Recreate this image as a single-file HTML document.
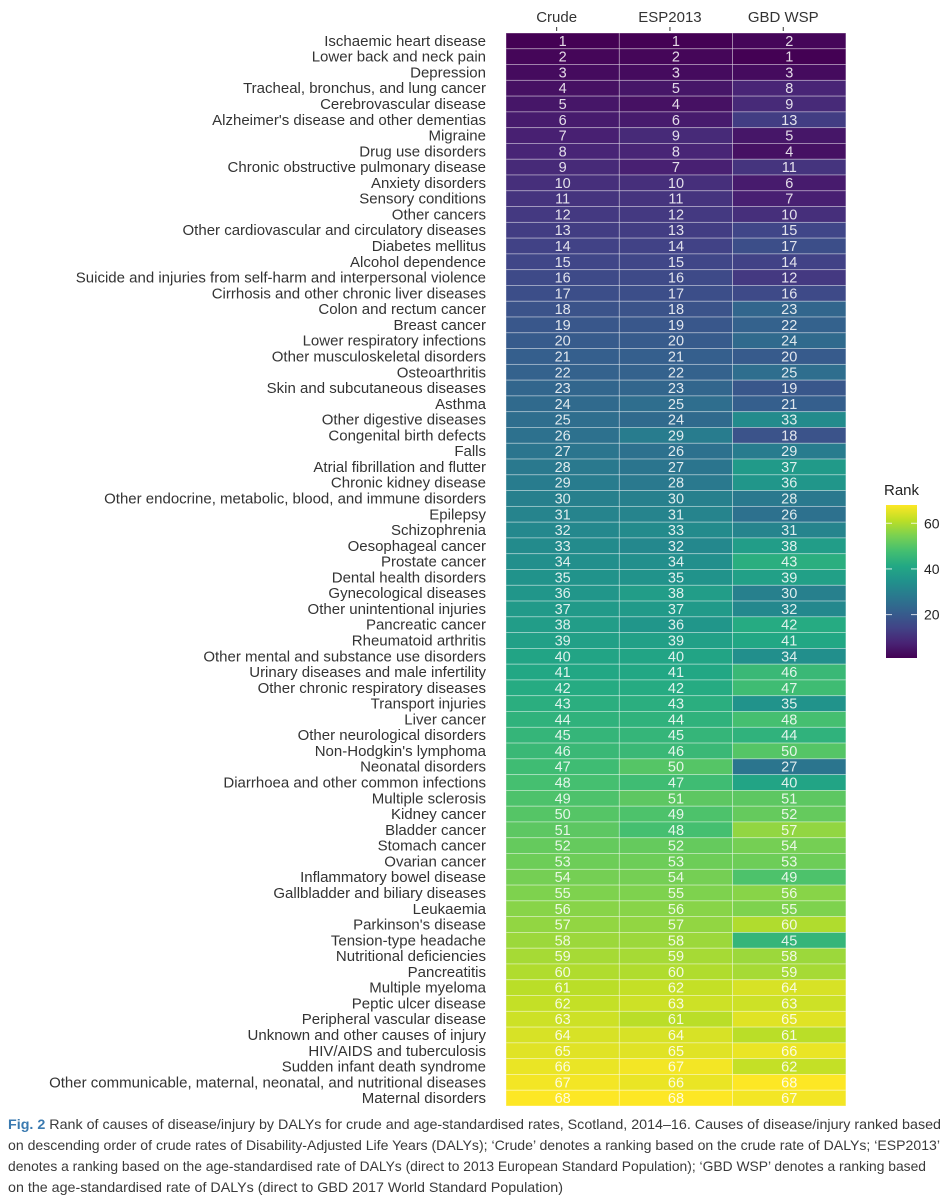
<!DOCTYPE html>
<html><head><meta charset="utf-8"><style>
html,body{margin:0;padding:0;background:#fff;}
svg{display:block;font-family:"Liberation Sans",Arial,sans-serif;}
</style></head><body>
<svg id="chart" width="949" height="1200" viewBox="0 0 949 1200" xmlns="http://www.w3.org/2000/svg">
<g id="labels"></g>
<g id="cells"></g>
<g id="xaxis"></g>
<g id="legend">
<defs><linearGradient id="vg" x1="0" y1="1" x2="0" y2="0"></linearGradient></defs>
</g>
<g font-size="14" fill="#3a3a3a">
<text x="8" y="1129" textLength="933" lengthAdjust="spacingAndGlyphs"><tspan font-weight="bold" fill="#3a7ab0">Fig. 2</tspan> Rank of causes of disease/injury by DALYs for crude and age-standardised rates, Scotland, 2014–16. Causes of disease/injury ranked based</text>
<text x="8" y="1150" textLength="932" lengthAdjust="spacingAndGlyphs">on descending order of crude rates of Disability-Adjusted Life Years (DALYs); ‘Crude’ denotes a ranking based on the crude rate of DALYs; ‘ESP2013’</text>
<text x="8" y="1171" textLength="918" lengthAdjust="spacingAndGlyphs">denotes a ranking based on the age-standardised rate of DALYs (direct to 2013 European Standard Population); ‘GBD WSP’ denotes a ranking based</text>
<text x="8" y="1192" textLength="555" lengthAdjust="spacingAndGlyphs">on the age-standardised rate of DALYs (direct to GBD 2017 World Standard Population)</text>
</g>
</svg>
<script>
const causes = ["Ischaemic heart disease","Lower back and neck pain","Depression","Tracheal, bronchus, and lung cancer","Cerebrovascular disease","Alzheimer's disease and other dementias","Migraine","Drug use disorders","Chronic obstructive pulmonary disease","Anxiety disorders","Sensory conditions","Other cancers","Other cardiovascular and circulatory diseases","Diabetes mellitus","Alcohol dependence","Suicide and injuries from self-harm and interpersonal violence","Cirrhosis and other chronic liver diseases","Colon and rectum cancer","Breast cancer","Lower respiratory infections","Other musculoskeletal disorders","Osteoarthritis","Skin and subcutaneous diseases","Asthma","Other digestive diseases","Congenital birth defects","Falls","Atrial fibrillation and flutter","Chronic kidney disease","Other endocrine, metabolic, blood, and immune disorders","Epilepsy","Schizophrenia","Oesophageal cancer","Prostate cancer","Dental health disorders","Gynecological diseases","Other unintentional injuries","Pancreatic cancer","Rheumatoid arthritis","Other mental and substance use disorders","Urinary diseases and male infertility","Other chronic respiratory diseases","Transport injuries","Liver cancer","Other neurological disorders","Non-Hodgkin's lymphoma","Neonatal disorders","Diarrhoea and other common infections","Multiple sclerosis","Kidney cancer","Bladder cancer","Stomach cancer","Ovarian cancer","Inflammatory bowel disease","Gallbladder and biliary diseases","Leukaemia","Parkinson's disease","Tension-type headache","Nutritional deficiencies","Pancreatitis","Multiple myeloma","Peptic ulcer disease","Peripheral vascular disease","Unknown and other causes of injury","HIV/AIDS and tuberculosis","Sudden infant death syndrome","Other communicable, maternal, neonatal, and nutritional diseases","Maternal disorders"];
const columns = ["Crude","ESP2013","GBD WSP"];
const crude = [1,2,3,4,5,6,7,8,9,10,11,12,13,14,15,16,17,18,19,20,21,22,23,24,25,26,27,28,29,30,31,32,33,34,35,36,37,38,39,40,41,42,43,44,45,46,47,48,49,50,51,52,53,54,55,56,57,58,59,60,61,62,63,64,65,66,67,68];
const esp2013 = [1,2,3,5,4,6,9,8,7,10,11,12,13,14,15,16,17,18,19,20,21,22,23,25,24,29,26,27,28,30,31,33,32,34,35,38,37,36,39,40,41,42,43,44,45,46,50,47,51,49,48,52,53,54,55,56,57,58,59,60,62,63,61,64,65,67,66,68];
const gbdwsp = [2,1,3,8,9,13,5,4,11,6,7,10,15,17,14,12,16,23,22,24,20,25,19,21,33,18,29,37,36,28,26,31,38,43,39,30,32,42,41,34,46,47,35,48,44,50,27,40,51,52,57,54,53,49,56,55,60,45,58,59,64,63,65,61,66,62,68,67];
const legendTicks = [20,40,60];

const NS="http://www.w3.org/2000/svg";
function mk(tag,attrs,parent){const e=document.createElementNS(NS,tag);for(const k in attrs)e.setAttribute(k,attrs[k]);parent.appendChild(e);return e;}
const VIR=["#440154","#482475","#414487","#355f8d","#2a788e","#21918c","#22a884","#44bf70","#7ad151","#bddf26","#fde725"];
function hex(c){return [parseInt(c.slice(1,3),16),parseInt(c.slice(3,5),16),parseInt(c.slice(5,7),16)];}
function viridis(t){t=Math.max(0,Math.min(1,t));const p=t*(VIR.length-1),i=Math.min(Math.floor(p),VIR.length-2),f=p-i;const a=hex(VIR[i]),b=hex(VIR[i+1]);return "rgb("+a.map((v,k)=>Math.round(v+(b[k]-v)*f)).join(",")+")";}
const vmin=1,vmax=68;
const color=v=>viridis((v-vmin)/(vmax-vmin));
const x0=506,colW=113.3,y0=33,rowH=(1106-33)/68;
const xPos=i=>x0+i*colW;
const yPos=i=>y0+i*rowH;
const series=[crude,esp2013,gbdwsp];
const labels=document.getElementById('labels'),cells=document.getElementById('cells'),xaxis=document.getElementById('xaxis');
causes.forEach((c,i)=>{
  const t=mk('text',{x:486,y:yPos(i)+rowH/2+5,'text-anchor':'end','font-size':15,fill:'#333'},labels);
  t.textContent=c;
  
  
});
series.forEach((s,j)=>{
  s.forEach((v,i)=>{
    const r=mk('rect',{x:xPos(j),y:yPos(i),width:colW,height:rowH,fill:color(v),stroke:'rgba(255,255,255,0.45)','stroke-width':0.8},cells);
    
    
    const t=mk('text',{x:xPos(j)+colW/2,y:yPos(i)+rowH/2+5,'text-anchor':'middle','font-size':14.5,fill:'rgba(255,255,255,0.85)'},cells);
    t.textContent=v;
    
    
  });
});
columns.forEach((c,j)=>{
  const t=mk('text',{x:xPos(j)+colW/2-6,y:22,'text-anchor':'middle','font-size':15,fill:'#333'},xaxis);
  t.textContent=c;
  
  
  const tk=mk('line',{x1:xPos(j)+colW/2-6,x2:xPos(j)+colW/2-6,y1:27,y2:31,stroke:'#333','stroke-width':1},xaxis);
  
  
});
// legend
const lg=document.getElementById('legend'),grad=document.getElementById('vg');
VIR.forEach((c,i)=>mk('stop',{offset:(i/(VIR.length-1)),'stop-color':c},grad));
const lx=886,lw=31,ly0=658,ly1=505;
const ly=v=>ly0-(v-vmin)/(vmax-vmin)*(ly0-ly1);
const lt=mk('text',{x:884,y:495,'font-size':15,fill:'#222'},lg);lt.textContent='Rank';


const bar=mk('rect',{x:lx,y:ly1,width:lw,height:ly0-ly1,fill:'url(#vg)'},lg);


legendTicks.forEach(v=>{
  mk('line',{x1:lx,x2:lx+6,y1:ly(v),y2:ly(v),stroke:'rgba(255,255,255,0.8)'},lg);
  mk('line',{x1:lx+lw-6,x2:lx+lw,y1:ly(v),y2:ly(v),stroke:'rgba(255,255,255,0.8)'},lg);
  const t=mk('text',{x:924,y:ly(v)+5,'font-size':14,fill:'#222'},lg);t.textContent=v;
  
  
});
</script>
</body></html>
